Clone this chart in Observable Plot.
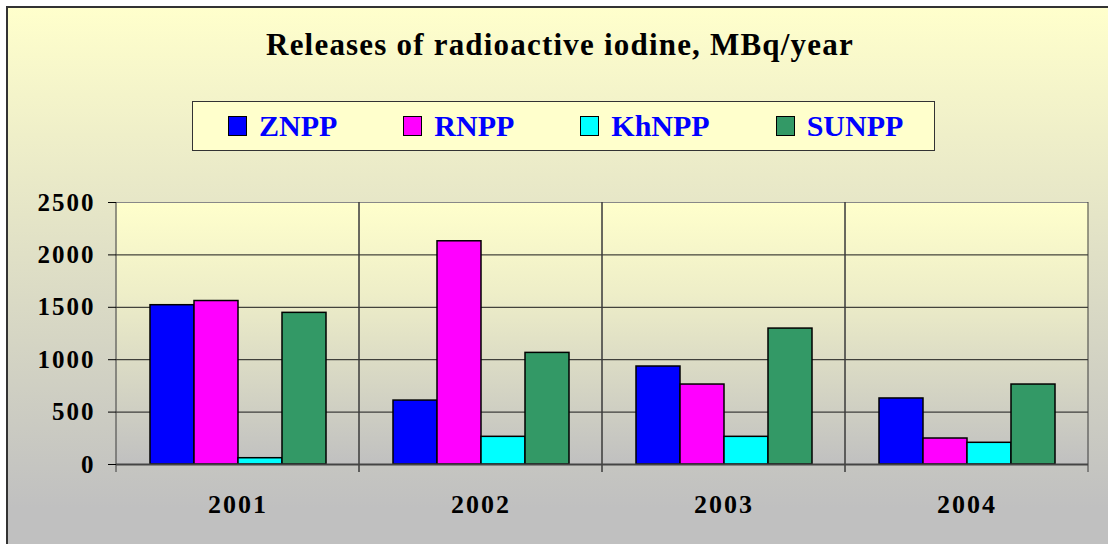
<!DOCTYPE html>
<html>
<head>
<meta charset="utf-8">
<script src="https://cdn.jsdelivr.net/npm/d3@7"></script>
<script src="https://cdn.jsdelivr.net/npm/@observablehq/plot@0.6"></script>
<style>
  html, body { margin: 0; padding: 0; background: #fff; overflow: hidden; }
  #chart { position: relative; width: 1108px; height: 544px; overflow: hidden;
           font-family: "Liberation Serif", "Times New Roman", serif; font-weight: bold; }
  #bg { position: absolute; left: 6px; top: 6px; width: 1200px; height: 600px;
        border-left: 2px solid #333; border-top: 2px solid #333;
        background: linear-gradient(to bottom, #FFFFCC 0px, #C0C0C0 500px); }
  #title { position: absolute; left: 0; top: 29px; width: 1120px; text-align: center;
           font-size: 31px; line-height: 31px; letter-spacing: 1.2px; color: #000; white-space: nowrap; }
  #legend { position: absolute; left: 192px; top: 101px; width: 743px; height: 50px; box-sizing: border-box;
            border: 1px solid #333; background: #FFFFCC; display: flex; align-items: center;
            gap: 66px; padding-left: 35px; }
  .item { display: flex; align-items: center; }
  .sw { width: 19px; height: 20px; box-sizing: border-box; border: 1.5px solid #000; margin-right: 12px; }
  .lt { font-size: 30px; line-height: 30px; color: #0000FF; white-space: nowrap; }
  #plot { position: absolute; left: 0; top: 200px; }
</style>
</head>
<body>
<div id="chart">
  <div id="bg"></div>
  <div id="title">Releases of radioactive iodine, MBq/year</div>
  <div id="legend"></div>
  <div id="plot"></div>
</div>
<script>
// ---- data ----
const years = ["2001", "2002", "2003", "2004"];
const plants = ["ZNPP", "RNPP", "KhNPP", "SUNPP"];
const znpp  = [1520, 610, 935, 630];
const rnpp  = [1560, 2130, 763, 248];
const khnpp = [60, 264, 264, 207];
const sunpp = [1447, 1065, 1297, 763];
const plantColors = ["#0000FF", "#FF00FF", "#00FFFF", "#339966"];
const yTicks = [0, 500, 1000, 1500, 2000, 2500];

const series = [znpp, rnpp, khnpp, sunpp];
const data = years.flatMap((year, i) => plants.map((plant, j) => ({year, plant, value: series[j][i]})));

// legend (HTML, above the SVG)
const legend = d3.select("#legend");
plants.forEach((p, j) => {
  const it = legend.append("div").attr("class", "item");
  it.append("div").attr("class", "sw").style("background", plantColors[j]);
  it.append("span").attr("class", "lt").text(p);
});

// vertical category boundary lines (gridlines + small ticks below the axis), per facet
function facetEdges(index, scales) {
  if (!scales.x || !scales.x.range) return null;
  const [x0, x1] = scales.x.range();
  const yb = scales.y(0), yt = scales.y(d3.max(yTicks));
  const g = d3.create("svg:g");
  g.append("line").attr("x1", x0).attr("x2", x0).attr("y1", yt).attr("y2", yb + 8).attr("stroke", "#3a3a3a");
  g.append("line").attr("x1", x1).attr("x2", x1).attr("y1", yt).attr("y2", yb + 8).attr("stroke", "#3a3a3a");
  return g.node();
}

const plot = Plot.plot({
  width: 1108,
  height: 344,
  marginTop: 2,
  marginBottom: 80,
  marginLeft: 114,
  marginRight: 19,
  style: {background: "transparent", fontFamily: "'Liberation Serif', 'Times New Roman', serif",
          fontWeight: "bold", fontSize: "25px", color: "#000", letterSpacing: "2px", overflow: "visible"},
  fx: {domain: years, padding: 0, label: null},
  x: {domain: plants, paddingInner: 0, paddingOuter: 0.75, axis: null},
  y: {domain: [0, d3.max(yTicks)], label: null},
  color: {domain: plants, range: plantColors},
  marks: [
    Plot.frame({fill: "url(#plotBg)", stroke: null}),
    Plot.ruleY(yTicks.slice(1, -1), {stroke: "#1a1a1a"}),
    Plot.ruleY([d3.max(yTicks)], {stroke: "#888"}),
    facetEdges,
    Plot.barY(data, {fx: "year", x: "plant", y: "value", fill: "plant", stroke: "#000", strokeWidth: 1.5}),
    Plot.ruleY([0], {stroke: "#444", strokeWidth: 2}),
    Plot.axisY({ticks: yTicks, tickSize: 8, tickPadding: 13, label: null, fontSize: 25, tickFormat: d => String(d)}),
    Plot.axisFx({anchor: "bottom", tickSize: 0, tickPadding: 30, label: null, fontSize: 26})
  ]
});

d3.select(plot).insert("defs", ":first-child").html(
  '<linearGradient id="plotBg" x1="0" y1="0" x2="0" y2="1">' +
  '<stop offset="0" stop-color="#FFFFCC"/><stop offset="0.35" stop-color="#EEEEC8"/>' +
  '<stop offset="1" stop-color="#C0C0C0"/></linearGradient>'
);
document.getElementById("plot").appendChild(plot);
</script>
</body>
</html>
